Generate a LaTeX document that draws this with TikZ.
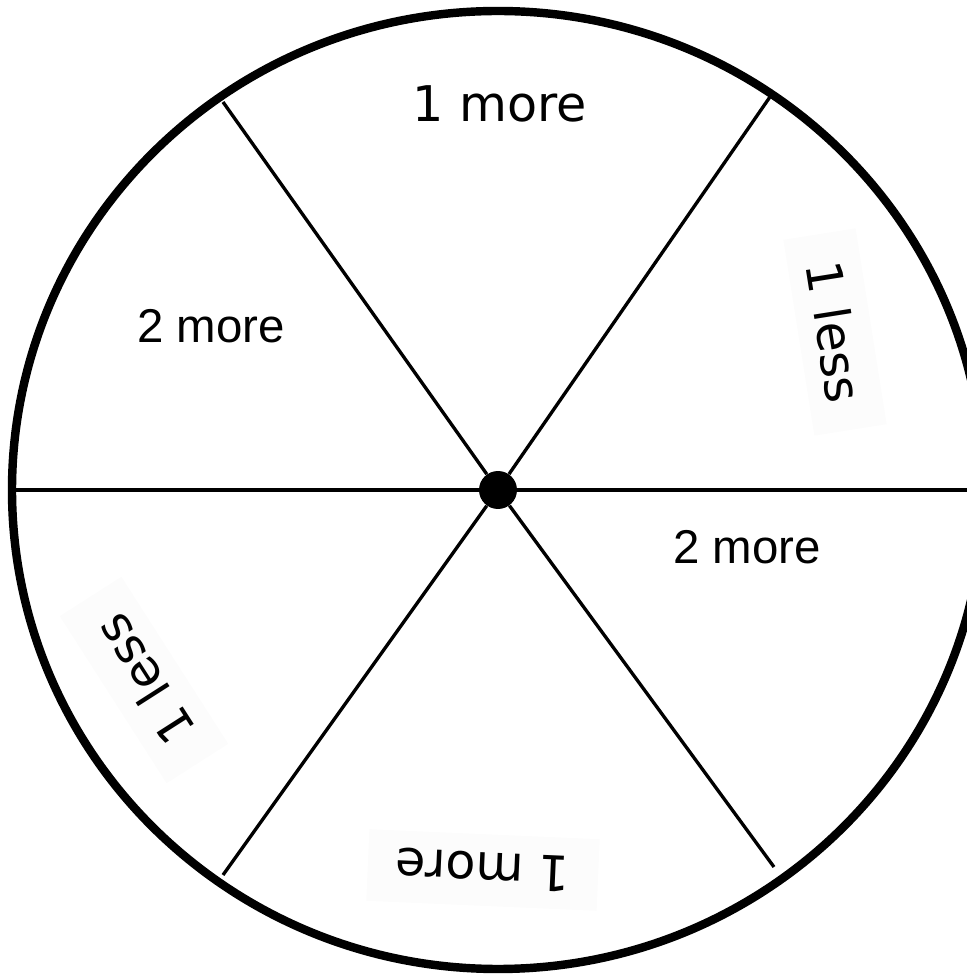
\documentclass[tikz,border=0pt]{standalone}
\usepackage{fontspec}
\setmainfont{Liberation Sans}
\newfontfamily\handfont{DejaVu Sans}
\usepackage{tikz}

\begin{document}
\begin{tikzpicture}[x=0.02cm, y=0.02cm,
  rim/.style={line width=4.8pt},
  spoke/.style={line width=1.9pt},
  hand/.style={font=\handfont\fontsize{28}{32}\selectfont, inner sep=6pt},
  plain/.style={font=\fontsize{27}{32}\selectfont},
  card/.style={hand, fill=black!1.2, inner xsep=16pt, inner ysep=10pt}]
\useasboundingbox (0,0) rectangle (967,978);

\node[circle, fill=black, inner sep=0pt, minimum size=0.76cm] (hub) at (498,488) {};
\coordinate (W) at (12,488);
\coordinate (E) at (985,488);
\coordinate (TL) at (223,876);
\coordinate (TR) at (772,884);
\coordinate (BL) at (223,103);
\coordinate (BR) at (774,111);

\draw[rim] (hub.center) ellipse [x radius=486, y radius=479];
\foreach \e in {W,E,TL,TR,BL,BR}
  \draw[spoke] (hub) -- (\e);

\node[hand] (topmore) at (500,874) {1 more};
\node[plain] (leftmore) at (211,652) {2 more};
\node[plain] (rightmore) at (747,431) {2 more};
\node[card, rotate=-81] (rightless) at (835,646) {1 less};
\node[card, rotate=122.6] (leftless) at (144,298) {1 less};
\node[card, rotate=177.5] (botmore) at (483,108) {1 more};
\end{tikzpicture}
\end{document}
